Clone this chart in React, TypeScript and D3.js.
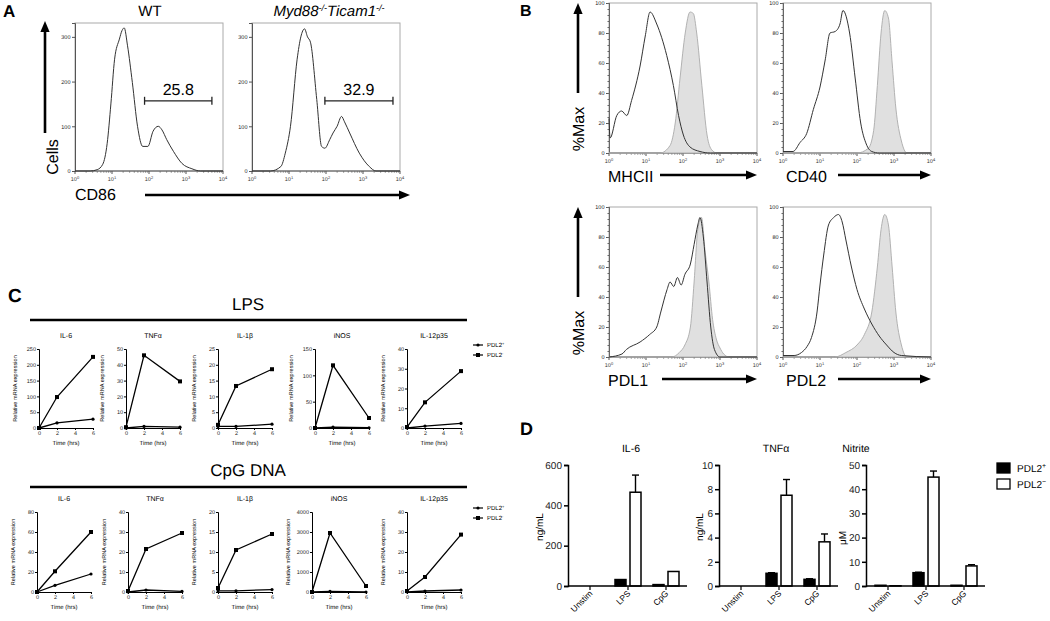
import React, { useEffect, useRef } from 'react'
import * as d3 from 'd3'

const FONT = '"Liberation Sans", Arial, Helvetica, sans-serif'

// ---- A: CD86 histograms (x = log10 fluorescence, y = cells)
const aWtLog = [0, 0.41, 0.6, 0.75, 0.87, 0.97, 1.07, 1.2, 1.27, 1.33, 1.42, 1.55, 1.69, 1.83, 1.97, 2.11, 2.25, 2.35, 2.48, 2.66, 2.89, 3.16, 3.39, 4]
const aWtCells = [0, 0, 3, 15, 62, 150, 250, 295, 314, 320, 280, 198, 100, 55, 55, 89, 100, 92, 70, 44, 17, 5, 0, 0]
const aKoLog = [0, 0.5, 0.78, 0.9, 1.04, 1.22, 1.32, 1.42, 1.5, 1.58, 1.75, 1.88, 1.97, 2.1, 2.19, 2.3, 2.42, 2.5, 2.64, 2.9, 3.17, 3.35, 4]
const aKoCells = [0, 0, 10, 40, 100, 250, 300, 318, 300, 288, 160, 55, 51, 70, 85, 100, 122, 110, 85, 40, 10, 0, 0]
const aGateWt = [1.88, 3.7]
const aGateKo = [1.97, 3.81]
const aPercent = ['25.8', '32.9']
const aCellTicks = [0, 100, 200, 300]

// ---- B: %Max histograms, open = line, fill = shaded
const bMhcOpenLog = [0, 0.03, 0.21, 0.34, 0.48, 0.61, 0.84, 0.98, 1.11, 1.29, 1.56, 1.74, 1.88, 2.01, 2.19, 2.46, 2.74, 4]
const bMhcOpen = [23, 10, 25, 28, 25, 35, 58, 78, 94, 86, 65, 45, 25, 12, 4, 1, 0, 0]
const bMhcFillLog = [0, 1.38, 1.65, 1.79, 1.92, 2.06, 2.19, 2.28, 2.37, 2.51, 2.65, 2.78, 2.92, 4]
const bMhcFill = [0, 0, 5, 20, 50, 80, 94, 93, 80, 45, 12, 2, 0, 0]
const bCd40OpenLog = [0, 0.27, 0.46, 0.64, 0.82, 1.0, 1.14, 1.27, 1.41, 1.54, 1.62, 1.8, 1.95, 2.1, 2.25, 2.4, 2.6, 4]
const bCd40Open = [1, 1, 7, 13, 29, 44, 62, 80, 81, 86, 95, 80, 50, 20, 6, 1, 0, 0]
const bCd40FillLog = [0, 2.0, 2.3, 2.45, 2.55, 2.65, 2.75, 2.85, 2.95, 3.05, 3.2, 3.35, 4]
const bCd40Fill = [0, 0, 3, 15, 45, 80, 95, 90, 60, 30, 8, 0, 0]
const bPdl1OpenLog = [0, 0.35, 0.47, 0.84, 1.1, 1.29, 1.4, 1.57, 1.65, 1.75, 1.85, 1.95, 2.05, 2.2, 2.3, 2.4, 2.46, 2.55, 2.65, 2.75, 2.85, 3.0, 4]
const bPdl1Open = [0, 2, 5, 10, 15, 20, 30, 45, 50, 47, 53, 48, 55, 62, 75, 88, 93, 80, 50, 20, 5, 0, 0]
const bPdl1FillLog = [0, 1.7, 1.9, 2.05, 2.2, 2.3, 2.4, 2.5, 2.6, 2.7, 2.8, 2.9, 3.0, 3.1, 3.25, 4]
const bPdl1Fill = [0, 0, 3, 8, 20, 50, 85, 93, 70, 50, 25, 12, 6, 2, 0, 0]
const bPdl2OpenLog = [0, 0.3, 0.5, 0.65, 0.77, 0.92, 1.0, 1.1, 1.23, 1.37, 1.5, 1.6, 1.7, 1.85, 2.0, 2.2, 2.4, 2.6, 2.8, 3.0, 3.2, 4]
const bPdl2Open = [1, 1, 3, 7, 13, 30, 48, 68, 88, 93, 95, 90, 78, 60, 45, 32, 22, 14, 8, 3, 1, 0]
const bPdl2FillLog = [0, 1.4, 1.7, 2.0, 2.2, 2.4, 2.55, 2.65, 2.75, 2.85, 2.95, 3.05, 3.2, 3.35, 4]
const bPdl2Fill = [0, 0, 3, 8, 15, 30, 60, 85, 95, 88, 60, 30, 8, 0, 0]
const bMarkers = ['MHCII', 'CD40', 'PDL1', 'PDL2']
const bPctTicks = [0, 20, 40, 60, 80, 100]

// ---- C: relative mRNA expression over time
const cTimes = [0, 2, 6]
const cTimeTicks = [0, 2, 4, 6]
const cGenes = ['IL-6', 'TNFα', 'IL-1β', 'iNOS', 'IL-12p35']
const cLpsMax = [250, 50, 25, 150, 40]
const cLpsStep = [50, 10, 5, 50, 10]
const cLpsNeg = [[0, 98, 225], [0.5, 46, 29.5], [1, 13.3, 18.6], [0, 119, 19], [0.5, 13, 28.8]]
const cLpsPos = [[0, 16, 28], [0, 1, 0.5], [0.5, 0.5, 1.2], [0, 1.5, 0.5], [0, 1, 2.3]]
const cCpgMax = [80, 40, 20, 4000, 40]
const cCpgStep = [20, 10, 5, 1000, 10]
const cCpgNeg = [[0, 20.7, 60], [0.5, 21.5, 29.5], [1, 10.5, 14.5], [0, 2950, 300], [0.5, 7.5, 28.7]]
const cCpgPos = [[0, 6.7, 18], [0, 1, 0.3], [0.3, 0.3, 0.6], [0, 30, 0], [0, 0.5, 1]]

// ---- D: cytokines / nitrite, PDL2+ (black) vs PDL2- (white)
const dCats = ['Unstim', 'LPS', 'CpG']
const dTitles = ['IL-6', 'TNFα', 'Nitrite']
const dUnits = ['ng/mL', 'ng/mL', 'μM']
const dMax = [600, 10, 50]
const dStep = [200, 2, 10]
const dPos = [[0, 32, 7], [0, 1.05, 0.55], [0.3, 5.5, 0.3]]
const dPosErr = [[0, 0, 0], [0, 0.05, 0.05], [0, 0.2, 0]]
const dNeg = [[0, 465, 72], [0, 7.5, 3.65], [0.1, 45, 8.3]]
const dNegErr = [[0, 85, 0], [0, 1.3, 0.65], [0, 2.5, 0.5]]

export default function App() {
  const ref = useRef<SVGSVGElement>(null)

  useEffect(() => {
    const svg = d3.select(ref.current)
    svg.selectAll('*').remove()

    const text = (x: number, y: number, s: string, size: number, anchor = 'start', weight = 'normal') =>
      svg.append('text').attr('x', x).attr('y', y).attr('font-size', size)
        .attr('text-anchor', anchor).attr('font-weight', weight).attr('fill', '#000').text(s)
    const vtext = (x: number, y: number, s: string, size: number) =>
      svg.append('text').attr('transform', `translate(${x},${y}) rotate(-90)`)
        .attr('font-size', size).attr('text-anchor', 'middle').attr('fill', '#000').text(s)
    const arrow = (x1: number, y1: number, x2: number, y2: number, w = 2.6, head = 11) => {
      const a = Math.atan2(y2 - y1, x2 - x1)
      const bx = x2 - head * Math.cos(a), by = y2 - head * Math.sin(a)
      svg.append('line').attr('x1', x1).attr('y1', y1).attr('x2', bx).attr('y2', by)
        .attr('stroke', '#000').attr('stroke-width', w)
      const px = Math.sin(a) * head * 0.42, py = -Math.cos(a) * head * 0.42
      svg.append('polygon').attr('points', `${x2},${y2} ${bx + px},${by + py} ${bx - px},${by - py}`).attr('fill', '#000')
    }
    const styleAxis = (g: any, size: number, col = '#000') => {
      g.attr('font-family', FONT).attr('font-size', size)
      g.selectAll('line').attr('stroke', col)
      g.select('.domain').attr('stroke', col)
      g.selectAll('text').attr('fill', '#222')
    }

    // log axis 10^0..10^4 with minor ticks
    const logAxis = (xs: any, y: number) => {
      const g = svg.append('g')
      for (let d = 0; d <= 4; d++) {
        g.append('line').attr('x1', xs(10 ** d)).attr('x2', xs(10 ** d)).attr('y1', y).attr('y2', y + 3).attr('stroke', '#555')
        const t = g.append('text').attr('x', xs(10 ** d)).attr('y', y + 10).attr('font-size', 5.5)
          .attr('text-anchor', 'middle').attr('fill', '#333')
        t.append('tspan').text('10')
        t.append('tspan').attr('dy', -2.5).attr('font-size', 4).text(String(d))
        if (d < 4) for (let k = 2; k < 10; k++) {
          const xx = xs(k * 10 ** d)
          g.append('line').attr('x1', xx).attr('x2', xx).attr('y1', y).attr('y2', y + 1.8).attr('stroke', '#666').attr('stroke-width', 0.7)
        }
      }
    }

    const histogram = (x0: number, y0: number, w: number, h: number, yMax: number, ticks: number[], minor: number[]) => {
      const xs = d3.scaleLog().domain([1, 1e4]).range([x0, x0 + w])
      const ys = d3.scaleLinear().domain([0, yMax]).range([y0 + h, y0])
      svg.append('rect').attr('x', x0).attr('y', y0).attr('width', w).attr('height', h)
        .attr('fill', 'none').attr('stroke', '#aaa')
      const ay = svg.append('g').attr('transform', `translate(${x0},0)`)
        .call(d3.axisLeft(ys).tickValues(ticks).tickSize(3).tickPadding(1.5))
      styleAxis(ay, 5.5, '#555')
      if (minor.length) {
        const am = svg.append('g').attr('transform', `translate(${x0},0)`)
          .call(d3.axisLeft(ys).tickValues(minor).tickSize(1.5).tickFormat(() => ''))
        styleAxis(am, 5, '#666')
      }
      svg.append('line').attr('x1', x0).attr('x2', x0 + w).attr('y1', y0 + h).attr('y2', y0 + h).attr('stroke', '#555')
      logAxis(xs, y0 + h)
      return { xs, ys }
    }
    const histPath = (xs: any, ys: any, logs: number[], vals: number[], filled: boolean) => {
      const pts: [number, number][] = logs.map((l, i) => [xs(10 ** l), ys(vals[i])])
      if (filled) {
        const area = d3.area<[number, number]>().x(p => p[0]).y0(ys(0)).y1(p => p[1]).curve(d3.curveMonotoneX)
        svg.append('path').attr('d', area(pts)).attr('fill', '#e0e0e0').attr('stroke', '#aaa').attr('stroke-width', 0.9)
      } else {
        const line = d3.line<[number, number]>().x(p => p[0]).y(p => p[1]).curve(d3.curveMonotoneX)
        svg.append('path').attr('d', line(pts)).attr('fill', 'none').attr('stroke', '#333').attr('stroke-width', 1)
      }
    }

    // ===== Panel A
    text(3, 17, 'A', 17, 'start', 'bold')
    text(150, 16, 'WT', 15, 'middle')
    const ko = text(329, 16, '', 15, 'middle').attr('font-style', 'italic')
    ko.append('tspan').text('Myd88')
    ko.append('tspan').attr('dy', -5).attr('font-size', 9).text('-/-')
    ko.append('tspan').attr('dy', 5).text('Ticam1')
    ko.append('tspan').attr('dy', -5).attr('font-size', 9).text('-/-')
    const aPlots = [
      { x0: 75, logs: aWtLog, cells: aWtCells, gate: aGateWt, pct: aPercent[0] },
      { x0: 252, logs: aKoLog, cells: aKoCells, gate: aGateKo, pct: aPercent[1] },
    ]
    aPlots.forEach(p => {
      const { xs, ys } = histogram(p.x0, 23, 148, 148, 331, aCellTicks, [])
      histPath(xs, ys, p.logs, p.cells, false)
      const g1 = xs(10 ** p.gate[0]), g2 = xs(10 ** p.gate[1]), gy = ys(157)
      svg.append('line').attr('x1', g1).attr('x2', g2).attr('y1', gy).attr('y2', gy).attr('stroke', '#222').attr('stroke-width', 1.3)
      ;[g1, g2].forEach(gx => svg.append('line').attr('x1', gx).attr('x2', gx).attr('y1', gy - 4).attr('y2', gy + 4).attr('stroke', '#222').attr('stroke-width', 1.3))
      text((g1 + g2) / 2, gy - 6, p.pct, 16, 'middle')
    })
    vtext(58, 157, 'Cells', 16)
    arrow(45, 133, 45, 21)
    text(75, 200, 'CD86', 16)
    arrow(145, 195, 410, 195)

    // ===== Panel B
    text(520, 16, 'B', 16, 'start', 'bold')
    const bPlots = [
      { x0: 609, y0: 3, open: [bMhcOpenLog, bMhcOpen], fill: [bMhcFillLog, bMhcFill], lx: 608, ax: 660 },
      { x0: 783, y0: 3, open: [bCd40OpenLog, bCd40Open], fill: [bCd40FillLog, bCd40Fill], lx: 786, ax: 838 },
      { x0: 609, y0: 207, open: [bPdl1OpenLog, bPdl1Open], fill: [bPdl1FillLog, bPdl1Fill], lx: 608, ax: 662 },
      { x0: 783, y0: 207, open: [bPdl2OpenLog, bPdl2Open], fill: [bPdl2FillLog, bPdl2Fill], lx: 786, ax: 838 },
    ]
    bPlots.forEach((p, i) => {
      const { xs, ys } = histogram(p.x0, p.y0, 148, 150, 100, bPctTicks, d3.range(0, 101, 4))
      histPath(xs, ys, p.fill[0], p.fill[1], true)
      histPath(xs, ys, p.open[0], p.open[1], false)
      text(p.lx, p.y0 + 179, bMarkers[i], 16)
      arrow(p.ax, p.y0 + 172, p.x0 + 148, p.y0 + 172)
    })
    ;[3, 207].forEach(y0 => {
      vtext(584, y0 + 126, '%Max', 16)
      arrow(578, y0 + 90, 578, y0)
    })

    // ===== Panel C
    text(8, 302, 'C', 19, 'start', 'bold')
    const cSections = [
      { title: 'LPS', titleY: 310, lineY: 320, top: 349, bot: 428, xs: [39, 126, 218, 315, 407], max: cLpsMax, step: cLpsStep, neg: cLpsNeg, pos: cLpsPos },
      { title: 'CpG DNA', titleY: 476, lineY: 487, top: 512, bot: 592, xs: [37, 128, 218, 312, 407], max: cCpgMax, step: cCpgStep, neg: cCpgNeg, pos: cCpgPos },
    ]
    cSections.forEach(s => {
      text(248, s.titleY, s.title, 17, 'middle')
      svg.append('line').attr('x1', 30).attr('x2', 467).attr('y1', s.lineY).attr('y2', s.lineY).attr('stroke', '#000').attr('stroke-width', 2.5)
      cGenes.forEach((gene, i) => {
        const x0 = s.xs[i]
        const x = d3.scaleLinear().domain([0, 6]).range([x0, x0 + 54])
        const y = d3.scaleLinear().domain([0, s.max[i]]).range([s.bot, s.top])
        const ax = svg.append('g').attr('transform', `translate(0,${s.bot})`)
          .call(d3.axisBottom(x).tickValues(cTimeTicks).tickFormat(d3.format('d')).tickSize(2).tickPadding(1.5))
        styleAxis(ax, 5.5)
        const ay = svg.append('g').attr('transform', `translate(${x0},0)`)
          .call(d3.axisLeft(y).tickValues(d3.range(0, s.max[i] + s.step[i] / 2, s.step[i])).tickFormat(d3.format('d')).tickSize(2).tickPadding(1))
        styleAxis(ay, 5.5)
        text(x0 + 27, s.top - 11, gene, 7, 'middle')
        text(x0 + 27, s.bot + 17, 'Time (hrs)', 6, 'middle')
        vtext(x0 - 22, (s.top + s.bot) / 2, 'Relative mRNA expression', 5.6)
        const line = d3.line<number>().x((_, k) => x(cTimes[k])).y(v => y(v))
        ;[s.pos[i], s.neg[i]].forEach((vals, si) => {
          svg.append('path').attr('d', line(vals)).attr('fill', 'none').attr('stroke', '#000').attr('stroke-width', 1.3)
          vals.forEach((v, k) => {
            if (si === 1) svg.append('rect').attr('x', x(cTimes[k]) - 2).attr('y', y(v) - 2).attr('width', 4).attr('height', 4)
            else svg.append('circle').attr('cx', x(cTimes[k])).attr('cy', y(v)).attr('r', 1.6)
          })
        })
      })
      // legend
      ;['PDL2', 'PDL2'].forEach((lab, k) => {
        const ly = s.top - 4 + k * 10
        svg.append('line').attr('x1', 473).attr('x2', 483).attr('y1', ly).attr('y2', ly).attr('stroke', '#000').attr('stroke-width', 1.2)
        if (k === 0) svg.append('circle').attr('cx', 478).attr('cy', ly).attr('r', 1.6)
        else svg.append('rect').attr('x', 476).attr('y', ly - 2).attr('width', 4).attr('height', 4)
        const t = text(487, ly + 2, lab, 6)
        t.append('tspan').attr('dy', -2.5).attr('font-size', 4).text(k === 0 ? '+' : '-')
      })
    })

    // ===== Panel D
    text(520, 435, 'D', 18, 'start', 'bold')
    const dX0 = [568, 719, 866]
    const dTitleX = [631, 776, 856]
    const dUnitX = [543, 703, 846]
    dTitles.forEach((title, i) => {
      const x0 = dX0[i], yb = 586, yt = 465
      const y = d3.scaleLinear().domain([0, dMax[i]]).range([yb, yt])
      const cx = d3.scalePoint().domain(dCats).range([x0 + 22, x0 + 98])
      text(dTitleX[i], 452, title, 10.5, 'middle')
      vtext(dUnitX[i], i === 2 ? 538 : 527, dUnits[i], 10)
      dCats.forEach((c, j) => {
        const c0 = cx(c) as number
        const bars = [
          { v: dPos[i][j], e: dPosErr[i][j], fill: '#000', bx: c0 - 13 },
          { v: dNeg[i][j], e: dNegErr[i][j], fill: '#fff', bx: c0 + 2 },
        ]
        bars.forEach(b => {
          const mid = b.bx + 5.5
          if (b.e > 0) {
            svg.append('line').attr('x1', mid).attr('x2', mid).attr('y1', y(b.v)).attr('y2', y(b.v + b.e)).attr('stroke', '#000').attr('stroke-width', 1.4)
            svg.append('line').attr('x1', mid - 3.5).attr('x2', mid + 3.5).attr('y1', y(b.v + b.e)).attr('y2', y(b.v + b.e)).attr('stroke', '#000').attr('stroke-width', 1.4)
          }
          if (b.v > 0) svg.append('rect').attr('x', b.bx).attr('y', y(b.v)).attr('width', 11).attr('height', yb - y(b.v))
            .attr('fill', b.fill).attr('stroke', '#000').attr('stroke-width', 1.5)
        })
        svg.append('line').attr('x1', c0).attr('x2', c0).attr('y1', yb).attr('y2', yb + 4).attr('stroke', '#000').attr('stroke-width', 1.2)
        text(c0 + 3, yb + 8, c, 8.5, 'end').attr('transform', `rotate(-45,${c0 + 3},${yb + 8})`)
      })
      const ay = svg.append('g').attr('transform', `translate(${x0},0)`)
        .call(d3.axisLeft(y).tickValues(d3.range(0, dMax[i] + dStep[i] / 2, dStep[i])).tickFormat(d3.format('d')).tickSize(4).tickPadding(2))
      styleAxis(ay, 10)
      ay.selectAll('line, .domain').attr('stroke-width', 1.5)
      svg.append('line').attr('x1', x0).attr('x2', x0 + 119).attr('y1', yb).attr('y2', yb).attr('stroke', '#000').attr('stroke-width', 1.5)
    })
    ;['#000', '#fff'].forEach((fill, k) => {
      const ly = 463 + k * 16
      svg.append('rect').attr('x', 997).attr('y', ly).attr('width', 13).attr('height', 10).attr('fill', fill).attr('stroke', '#000').attr('stroke-width', 1.3)
      const t = text(1017, ly + 9, 'PDL2', 10)
      t.append('tspan').attr('dy', -4).attr('font-size', 7).text(k === 0 ? '+' : '−')
    })
  }, [])

  return (
    <svg ref={ref} width={1050} height={621} textRendering="geometricPrecision"
      style={{ position: 'absolute', left: 0, top: 0, background: '#fff', fontFamily: FONT }} />
  )
}
